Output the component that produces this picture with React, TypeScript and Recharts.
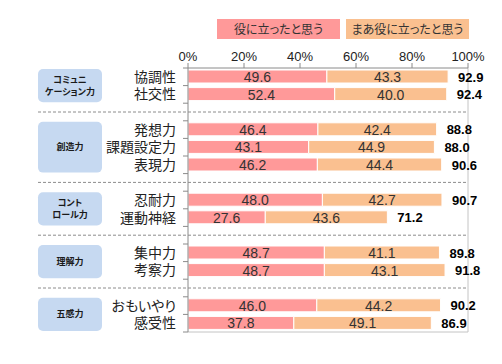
import React from 'react';
import { BarChart, Bar, XAxis, YAxis, LabelList, Legend, ReferenceLine } from 'recharts';

const groupLabels: string[][] = [['コミュニ', 'ケーション力'], ['創造力'], ['コント', 'ロール力'], ['理解力'], ['五感力']];
const groupSizes = [2, 3, 2, 2, 2];
const items = ['協調性', '社交性', '発想力', '課題設定力', '表現力', '忍耐力', '運動神経', '集中力', '考察力', 'おもいやり', '感受性'];
const usefulValues = [49.6, 52.4, 46.4, 43.1, 46.2, 48.0, 27.6, 48.7, 48.7, 46.0, 37.8];
const somewhatValues = [43.3, 40.0, 42.4, 44.9, 44.4, 42.7, 43.6, 41.1, 43.1, 44.2, 49.1];
const totalValues = [92.9, 92.4, 88.8, 88.0, 90.6, 90.7, 71.2, 89.8, 91.8, 90.2, 86.9];
const xTicks = [0, 20, 40, 60, 80, 100];
const seriesNames = ['役に立ったと思う', 'まあ役に立ったと思う'];
const seriesColors = ['#FF9999', '#FAC090'];

type Row = {
  id: string;
  label: string;
  useful?: number;
  somewhat?: number;
  total?: number;
  group?: number;
  groupStart?: boolean;
  sep?: boolean;
};

const rows: Row[] = [];
{
  let k = 0;
  groupSizes.forEach((size, g) => {
    for (let i = 0; i < size; i++, k++) {
      rows.push({
        id: 'r' + k,
        label: items[k],
        useful: usefulValues[k],
        somewhat: somewhatValues[k],
        total: totalValues[k],
        group: g,
        groupStart: i === 0,
      });
    }
    if (g < groupSizes.length - 1) rows.push({ id: 'sep' + g, label: '', sep: true });
  });
}

const W = 494;
const H = 348;
const MARGIN = { top: 30, right: 34, bottom: 23, left: 0 };
const X_TOP_H = 30;
const X_BOT_H = 1;
const Y_W = 180;
const TICK_MARGIN = 12;
const PLOT_H = H - MARGIN.top - MARGIN.bottom - X_TOP_H - X_BOT_H;
const BAND = PLOT_H / rows.length;
const PLOT_RIGHT = W - MARGIN.right;
const BOX_X = 30;
const BOX_W = 64;
const AXIS = '#8a8a8a';
const BORDER = '#c4c4c4';
const JP = "'Liberation Sans', 'Noto Sans CJK JP', sans-serif";
const NUM = "'Liberation Sans', Arial, sans-serif";

const CategoryTick = (props: any) => {
  const { x, y, payload } = props;
  const row = rows.find((r) => r.id === payload.value);
  if (!row) return null;
  const axisX = x + TICK_MARGIN;
  const top = y - BAND / 2;
  const isLast = row === rows[rows.length - 1];
  let box: React.ReactNode = null;
  if (row.groupStart && row.group !== undefined) {
    const size = groupSizes[row.group];
    const h = size * BAND - 2;
    const cy = top + 1 + h / 2;
    const lines = groupLabels[row.group];
    const lh = 12;
    box = (
      <g>
        <rect x={BOX_X} y={top + 1} width={BOX_W} height={h} rx={5} ry={5} fill="#C6D9F1" />
        {lines.map((ln, i) => (
          <text
            key={i}
            x={BOX_X + BOX_W / 2}
            y={cy + (i - (lines.length - 1) / 2) * lh}
            textAnchor="middle"
            dominantBaseline="central"
            fontSize={9}
            fontWeight="bold"
            fill="#1a1a1a"
            fontFamily={JP}
            style={{ fontFeatureSettings: '"palt"' }}
          >
            {ln}
          </text>
        ))}
      </g>
    );
  }
  return (
    <g>
      <line x1={axisX - 5} x2={axisX} y1={top} y2={top} stroke={AXIS} />
      {isLast && <line x1={axisX - 5} x2={axisX} y1={y + BAND / 2} y2={y + BAND / 2} stroke={AXIS} />}
      {row.sep && (
        <line x1={BOX_X} x2={PLOT_RIGHT} y1={y} y2={y} stroke="#8c8c8c" strokeDasharray="3 2" />
      )}
      {!row.sep && (
        <text
          x={x}
          y={y}
          textAnchor="end"
          dominantBaseline="central"
          fontSize={14}
          fill="#222"
          fontFamily={JP}
          style={{ fontFeatureSettings: '"palt"' }}
        >
          {row.label}
        </text>
      )}
      {box}
    </g>
  );
};

const getBox = (p: any) => {
  const vb = p.viewBox || {};
  return {
    x: p.x ?? vb.x,
    y: p.y ?? vb.y,
    width: p.width ?? vb.width,
    height: p.height ?? vb.height,
  };
};

const InnerLabel = (p: any) => {
  if (p.value === undefined || p.value === null) return null;
  const { x, y, width, height } = getBox(p);
  return (
    <text
      x={x + width / 2}
      y={y + height / 2 + 0.5}
      textAnchor="middle"
      dominantBaseline="central"
      fontSize={14}
      fill="#333"
      fontFamily={NUM}
    >
      {Number(p.value).toFixed(1)}
    </text>
  );
};

const TotalLabel = (p: any) => {
  if (p.value === undefined || p.value === null) return null;
  const { x, y, width, height } = getBox(p);
  return (
    <text
      x={x + width + 10}
      y={y + height / 2 + 0.5}
      textAnchor="start"
      dominantBaseline="central"
      fontSize={13}
      fontWeight="bold"
      fill="#000"
      fontFamily={NUM}
    >
      {Number(p.value).toFixed(1)}
    </text>
  );
};

const LegendContent = () => (
  <div style={{ display: 'flex', gap: 6 }}>
    {seriesNames.map((n, i) => (
      <div
        key={n}
        style={{
          width: 123,
          height: 20,
          background: seriesColors[i],
          display: 'flex',
          alignItems: 'center',
          justifyContent: 'center',
          fontSize: 12,
          color: '#333',
          fontFamily: "'Noto Sans CJK JP', sans-serif",
          fontFeatureSettings: '"palt"',
          lineHeight: '20px',
        }}
      >
        {n}
      </div>
    ))}
  </div>
);

export default function App() {
  return (
    <div style={{ width: W, height: H, fontFamily: JP }}>
      <BarChart width={W} height={H} data={rows} layout="vertical" margin={MARGIN}>
        <XAxis
          type="number"
          orientation="top"
          domain={[0, 100]}
          ticks={xTicks}
          height={X_TOP_H}
          tickFormatter={(v: number) => `${v}%`}
          tick={{ fontSize: 13, fill: '#222', fontFamily: NUM }}
          axisLine={{ stroke: AXIS }}
          tickLine={{ stroke: AXIS }}
          tickSize={5}
          tickMargin={2}
          interval={0}
        />
        <XAxis
          xAxisId="bottom"
          type="number"
          orientation="bottom"
          domain={[0, 100]}
          height={X_BOT_H}
          tick={false}
          tickLine={false}
          axisLine={{ stroke: BORDER }}
        />
        <YAxis
          type="category"
          dataKey="id"
          width={Y_W}
          interval={0}
          tickLine={false}
          tickSize={0}
          tickMargin={TICK_MARGIN}
          axisLine={{ stroke: AXIS }}
          tick={CategoryTick}
        />
        <ReferenceLine x={100} stroke={BORDER} />
        <Legend
          content={LegendContent}
          layout="horizontal"
          align="center"
          verticalAlign="middle"
          wrapperStyle={{ top: 11, left: 209, width: 260, height: 20 }}
        />
        <Bar
          dataKey="useful"
          name={seriesNames[0]}
          stackId="a"
          fill={seriesColors[0]}
          stroke="#fff"
          strokeWidth={1}
          barSize={13}
          isAnimationActive={false}
        >
          <LabelList dataKey="useful" content={InnerLabel} />
        </Bar>
        <Bar
          dataKey="somewhat"
          name={seriesNames[1]}
          stackId="a"
          fill={seriesColors[1]}
          stroke="#fff"
          strokeWidth={1}
          barSize={13}
          isAnimationActive={false}
        >
          <LabelList dataKey="somewhat" content={InnerLabel} />
          <LabelList dataKey="total" content={TotalLabel} />
        </Bar>
      </BarChart>
    </div>
  );
}
